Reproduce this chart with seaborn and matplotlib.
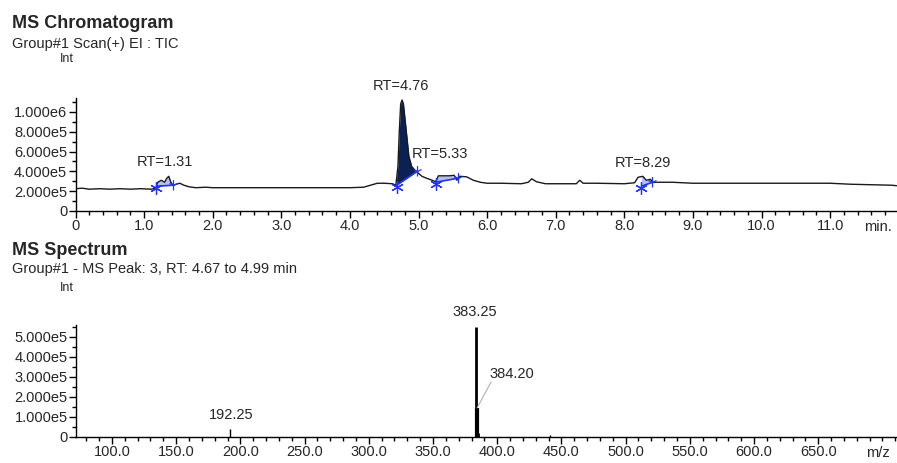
import numpy as np
import pandas as pd
import matplotlib
matplotlib.use("Agg")
import matplotlib.pyplot as plt
import seaborn as sns
from matplotlib.ticker import MultipleLocator, FuncFormatter

# --- DATA ---
# TIC chromatogram: time (min) and intensity
rt_min = [0.0, 0.1, 0.2, 0.35, 0.5, 0.65, 0.8, 0.95, 1.1, 1.17,
          1.2, 1.25, 1.3, 1.33, 1.36, 1.39, 1.42, 1.47, 1.52, 1.58,
          1.65, 1.75, 1.9, 2.0, 2.3, 2.6, 3.0, 3.4, 3.7, 4.0,
          4.2, 4.3, 4.4, 4.5, 4.62, 4.67, 4.7, 4.72, 4.74, 4.76,
          4.78, 4.8, 4.83, 4.86, 4.9, 4.95, 5.0, 5.05, 5.12, 5.2,
          5.25, 5.29, 5.45, 5.52, 5.56, 5.6, 5.7, 5.8, 5.9, 6.0,
          6.2, 6.5, 6.6, 6.65, 6.72, 6.85, 7.0, 7.3, 7.35, 7.4,
          7.6, 8.0, 8.15, 8.2, 8.27, 8.32, 8.38, 8.42, 8.55, 8.7,
          9.0, 9.5, 10.0, 10.5, 11.0, 11.3, 11.6, 11.9, 11.97]
tic = [2.25e5, 2.3e5, 2.2e5, 2.25e5, 2.2e5, 2.25e5, 2.2e5, 2.25e5, 2.2e5, 2.3e5,
       2.9e5, 3.1e5, 2.9e5, 3.3e5, 3.5e5, 2.9e5, 2.6e5, 2.7e5, 2.8e5, 2.6e5,
       2.45e5, 2.35e5, 2.4e5, 2.35e5, 2.35e5, 2.35e5, 2.35e5, 2.35e5, 2.35e5, 2.35e5,
       2.4e5, 2.6e5, 2.8e5, 2.8e5, 2.75e5, 2.6e5, 4.5e5, 8.0e5, 10.8e5, 11.2e5,
       10.8e5, 9.5e5, 7.5e5, 5.5e5, 4.5e5, 4.1e5, 3.8e5, 3.5e5, 3.3e5, 3.1e5,
       2.95e5, 3.55e5, 3.55e5, 3.6e5, 3.1e5, 3.5e5, 3.45e5, 3.1e5, 2.9e5, 2.8e5,
       2.8e5, 2.75e5, 2.9e5, 3.25e5, 2.95e5, 2.75e5, 2.75e5, 2.75e5, 3.1e5, 2.8e5,
       2.8e5, 2.75e5, 2.85e5, 3.4e5, 3.5e5, 3.1e5, 3.2e5, 2.9e5, 2.9e5, 2.9e5,
       2.8e5, 2.8e5, 2.8e5, 2.8e5, 2.8e5, 2.7e5, 2.65e5, 2.6e5, 2.55e5]

# integrated peaks: label, start/end time, baseline intensity at start/end
peak_labels = ["RT=1.31", "RT=4.76", "RT=5.33", "RT=8.29"]
peak_start = [1.18, 4.68, 5.25, 8.25]
peak_end = [1.42, 4.98, 5.57, 8.41]
base_start = [2.5e5, 2.6e5, 2.9e5, 2.5e5]
base_end = [2.6e5, 4.0e5, 3.3e5, 2.9e5]
label_x = [1.30, 4.74, 5.31, 8.27]
label_y = [4.9e5, 12.6e5, 5.8e5, 4.8e5]

# MS spectrum sticks
mz = [192.25, 383.25, 384.20, 385.20, 441.00]
abundance = [0.4e5, 5.5e5, 1.45e5, 0.2e5, 0.08e5]
mz_labels = ["192.25", "383.25", "384.20"]
mz_label_x = [192.7, 382.7, 411.5]
mz_label_y = [1.1e5, 6.25e5, 3.15e5]

# --- STYLE ---
sns.set_style("white")
plt.rcParams['font.family'] = ['Liberation Sans', 'DejaVu Sans']
plt.rcParams['font.size'] = 10

W, H = 897, 463
fig = plt.figure(figsize=(W / 100, H / 100), dpi=100)


def px(x0, y_top, x1, y_bot):
    return [x0 / W, 1 - y_bot / H, (x1 - x0) / W, (y_bot - y_top) / H]


def sci_fmt(v, pos):
    if abs(v) < 1e-9:
        return "0"
    e = int(np.floor(np.log10(abs(v))))
    return f"{v / 10**e:.3f}e{e}"


def style_axes(ax):
    for s in ["top", "right"]:
        ax.spines[s].set_visible(False)
    for s in ["left", "bottom"]:
        ax.spines[s].set_color("black")
        ax.spines[s].set_linewidth(1.0)
    ax.tick_params(which="major", direction="out", length=5, width=1, color="black",
                   labelsize=10.5, pad=1, left=True, bottom=True)
    ax.tick_params(which="minor", direction="out", length=3, width=1, color="black",
                   left=True, bottom=True)
    ax.yaxis.set_major_formatter(FuncFormatter(sci_fmt))
    ax.set_xlabel("")
    ax.set_ylabel("")
    ax.grid(False)


# --- CHROMATOGRAM ---
ax1 = fig.add_axes(px(75.5, 98, W, 211))
chrom = pd.DataFrame({"t": rt_min, "i": tic})
sns.lineplot(data=chrom, x="t", y="i", ax=ax1, color="#1a1a1a", lw=1.0, sort=False)

t_arr = np.array(rt_min)
i_arr = np.array(tic)
for k, lab in enumerate(peak_labels):
    sel = (t_arr >= peak_start[k]) & (t_arr <= peak_end[k])
    tx = np.concatenate([[peak_start[k]], t_arr[sel], [peak_end[k]]])
    sig = np.interp(tx, t_arr, i_arr)
    base = np.interp(tx, [peak_start[k], peak_end[k]], [base_start[k], base_end[k]])
    fill_col = "#0b2154" if k == 1 else "#b3c1f0"
    ax1.fill_between(tx, base, sig, where=sig >= base, color=fill_col, lw=0, zorder=1)
    ax1.plot([peak_start[k], peak_end[k]], [base_start[k], base_end[k]],
             color="#2233ff", lw=1.2, zorder=3)
    ax1.plot(peak_start[k], base_start[k] - 0.2e5, marker=(6, 2, 0), ms=9,
             mec="#2233ff", mew=0.9, ls="none", zorder=4, clip_on=False)
    ax1.plot([peak_end[k], peak_end[k]], [base_end[k] - 0.1e5, base_end[k] + 0.55e5],
             color="#2233ff", lw=0.9, zorder=4)
    ax1.plot(peak_end[k], base_end[k] + 0.05e5, marker="1", ms=7, mew=0.9,
             color="#2233ff", ls="none", zorder=4)
    ax1.text(label_x[k], label_y[k], lab, ha="center", va="center", fontsize=10.5,
             clip_on=False)

ax1.set_xlim(0, 11.975)
ax1.set_ylim(0, 1.14e6)
ax1.xaxis.set_major_locator(MultipleLocator(1.0))
ax1.xaxis.set_minor_locator(MultipleLocator(0.2))
ax1.yaxis.set_major_locator(MultipleLocator(2e5))
ax1.yaxis.set_minor_locator(MultipleLocator(1e5))
ax1.xaxis.set_major_formatter(FuncFormatter(lambda v, p: "0" if v == 0 else f"{v:.1f}"))
style_axes(ax1)
ax1.set_xticks([t for t in np.arange(0, 12, 1.0) if t <= 11.5])
ax1.set_xlim(0, 11.975)

# --- SPECTRUM ---
ax2 = fig.add_axes(px(76, 325, W, 437))
ax2.vlines(mz, 0, abundance, colors="black", linewidths=[1, 2.0, 3.0, 2.0, 1])
for k, lab in enumerate(mz_labels):
    ax2.text(mz_label_x[k], mz_label_y[k], lab, ha="center", va="center",
             fontsize=10.5, clip_on=False)
ax2.plot([395.2, 384.3], [2.75e5, 1.45e5], color="#b0b0b0", lw=0.8)
ax2.xaxis.set_minor_locator(MultipleLocator(10))
ax2.yaxis.set_major_locator(MultipleLocator(1e5))
ax2.yaxis.set_minor_locator(MultipleLocator(5e4))
ax2.xaxis.set_major_formatter(FuncFormatter(lambda v, p: f"{v:.1f}"))
style_axes(ax2)
ax2.set_xticks(np.arange(100, 651, 50))
ax2.set_xlim(72, 711.3)
ax2.set_ylim(0, 5.6e5)

# --- HEADINGS ---
fig.text(12 / W, 1 - 28 / H, "MS Chromatogram", fontsize=13, fontweight="bold", va="baseline")
fig.text(12 / W, 1 - 48 / H, "Group#1 Scan(+) EI : TIC", fontsize=10.5, va="baseline")
fig.text(60 / W, 1 - 62 / H, "Int", fontsize=9, va="baseline")
fig.text(878 / W, 1 - 227 / H, "min.", fontsize=10.5, ha="center", va="center")
fig.text(12 / W, 1 - 255 / H, "MS Spectrum", fontsize=13, fontweight="bold", va="baseline")
fig.text(12 / W, 1 - 273 / H, "Group#1 - MS Peak: 3, RT: 4.67 to 4.99 min", fontsize=10.5,
         va="baseline")
fig.text(60 / W, 1 - 291 / H, "Int", fontsize=9, va="baseline")
fig.text(878 / W, 1 - 453 / H, "m/z", fontsize=10.5, ha="center", va="center")

fig.savefig("out.png", dpi=100)
